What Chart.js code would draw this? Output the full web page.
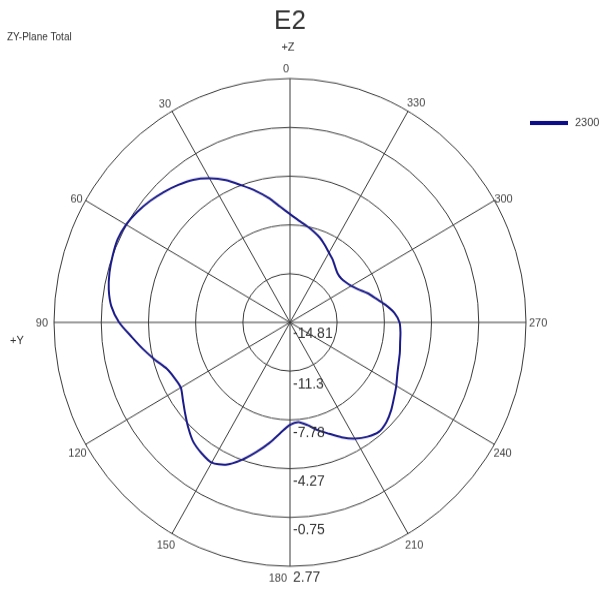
<!DOCTYPE html>
<html>
<head>
<meta charset="utf-8">
<script src="https://cdn.jsdelivr.net/npm/chart.js@4.4.1/dist/chart.umd.min.js"></script>
<style>
html{margin:0;padding:0;background:#fff;overflow:hidden;}
body{margin:0;padding:0;background:#fff;width:605px;height:590px;}
#wrap{width:605px;height:571px;transform:scale(1,1.0333);transform-origin:0 0;}
canvas{display:block;}
</style>
</head>
<body>
<div id="wrap"><canvas id="c" width="605" height="571"></canvas></div>
<script>
// ---- data ----
const chartTitle = 'E2';
const planeLabel = 'ZY-Plane Total';
const zAxisLabel = '+Z';
const yAxisLabel = '+Y';
const seriesName = '2300';
const angleLabels = ['0','30','60','90','120','150','180','210','240','270','300','330'];
const radialTicks = [-14.81, -11.3, -7.78, -4.27, -0.75, 2.77];
// angle (degrees, counter-clockwise from +Z) of each sample
const angles = [0,5,10,15,20,25,30,35,40,45,50,55,60,65,70,75,80,85,90,95,100,105,110,115,
  120,125,130,135,140,145,150,155,160,165,170,175,180,185,190,195,200,205,210,215,220,225,230,235,
  240,245,250,255,260,265,270,275,280,285,290,295,300,305,310,315,320,325,330,335,340,345,350,355];
// gain (dB) read at each angle
const gainDb = [-7.00,-6.44,-5.70,-5.00,-4.30,-3.49,-2.82,-2.26,-1.87,-1.52,
  -1.20,-0.92,-0.71,-0.64,-0.75,-0.89,-1.10,-1.45,-2.08,-2.96,
  -3.70,-4.40,-5.04,-5.32,-5.42,-5.07,-4.61,-4.09,-3.59,-3.31,
  -3.14,-3.49,-4.26,-5.14,-5.99,-6.83,-7.43,-7.60,-7.29,-6.76,
  -6.27,-5.67,-5.14,-4.75,-4.51,-4.65,-4.97,-5.35,-5.67,-5.99,
  -6.20,-6.34,-6.48,-6.55,-6.65,-7.00,-7.57,-8.17,-8.66,-9.18,
  -9.54,-9.75,-9.85,-9.80,-9.58,-9.27,-9.01,-8.66,-8.31,-8.02,
  -7.74,-7.43];

// ---- build radar (clockwise index order) from ccw angles ----
const chartLabels = [];
const chartValues = [];
for (let i = 0; i < angles.length; i++) {
  const a = (360 - angles[i]) % 360;
  chartLabels.push(String(a));
  chartValues.push(gainDb[angles.indexOf(a)]);
}

const S = 1.0333; // vertical display stretch
const FONT = '"Liberation Sans", Arial, sans-serif';

const textPlugin = {
  id: 'texts',
  afterDraw(chart) {
    const ctx = chart.ctx;
    const s = chart.scales.r;
    const cx = s.xCenter, cy = s.yCenter, R = s.drawingArea;
    ctx.save();
    // title & axis captions
    ctx.fillStyle = '#333';
    ctx.font = '26px ' + FONT;
    ctx.textAlign = 'center'; ctx.textBaseline = 'middle';
    ctx.fillText(chartTitle, cx, 22 / S);
    ctx.font = '10px ' + FONT;
    ctx.textAlign = 'left';
    ctx.fillText(planeLabel, 7, 37 / S);
    ctx.font = '11px ' + FONT;
    ctx.textAlign = 'center';
    ctx.fillText(zAxisLabel, cx - 2, 47 / S);
    ctx.textAlign = 'left';
    ctx.fillText(yAxisLabel, 10, 341 / S);

    // angle labels
    ctx.fillStyle = '#444';
    ctx.font = '11px ' + FONT;
    const place = {
      0:[ 'right',-1,-9], 30:['right',-1,-7], 60:['right',-3,-1], 90:['right',-6,1],
      120:['right',1,9], 150:['right',3,12], 180:['right',-3,12], 210:['left',-3,12],
      240:['left',-1,9], 270:['left',3,1], 300:['left',0,-1], 330:['left',-1,-8]
    };
    angleLabels.forEach(lbl => {
      const a = Number(lbl);
      const idx = chartLabels.indexOf(String(a));
      const p = s.getPointPosition(idx, R);
      const [al, dx, dy] = place[a];
      ctx.textAlign = al; ctx.textBaseline = 'middle';
      ctx.fillText(lbl, p.x + dx, p.y + dy / S);
    });

    // radial tick labels
    ctx.fillStyle = '#333';
    ctx.font = '14px ' + FONT;
    ctx.textAlign = 'left'; ctx.textBaseline = 'alphabetic';
    radialTicks.forEach((v, k) => {
      const d = s.getDistanceFromCenterForValue(v);
      const off = (k === 0 || k === radialTicks.length - 1) ? 15 : 17;
      ctx.fillText(String(v), cx + 3, cy + d + off / S);
    });

    // legend
    ctx.strokeStyle = '#0d0d8a';
    ctx.lineWidth = 4;
    ctx.beginPath();
    ctx.moveTo(530, 123 / S); ctx.lineTo(568, 123 / S);
    ctx.stroke();
    ctx.fillStyle = '#444';
    ctx.font = '11px ' + FONT;
    ctx.textAlign = 'left'; ctx.textBaseline = 'middle';
    ctx.fillText(seriesName, 575, 123 / S);
    ctx.restore();
  }
};

new Chart(document.getElementById('c'), {
  type: 'radar',
  data: {
    labels: chartLabels,
    datasets: [{
      label: seriesName,
      data: chartValues,
      borderColor: '#1a1a8a',
      borderWidth: 2,
      pointRadius: 0,
      fill: false,
      tension: 0.25
    }]
  },
  options: {
    responsive: false,
    animation: false,
    devicePixelRatio: 1,
    layout: { padding: { left: 54, right: 78, top: 76, bottom: 22 } },
    plugins: { legend: { display: false }, title: { display: false }, tooltip: { enabled: false } },
    scales: {
      r: {
        min: -14.81,
        max: 2.77,
        startAngle: 0,
        afterBuildTicks: sc => { sc.ticks = radialTicks.map(v => ({ value: v })); },
        ticks: { display: false },
        grid: { circular: true, color: '#3a3a3a', lineWidth: 1 },
        angleLines: { display: true, color: '#3a3a3a', lineWidth: c => (c.index % 6 === 0 ? 1 : 0) },
        pointLabels: { display: false }
      }
    }
  },
  plugins: [textPlugin]
});
</script>
</body>
</html>
